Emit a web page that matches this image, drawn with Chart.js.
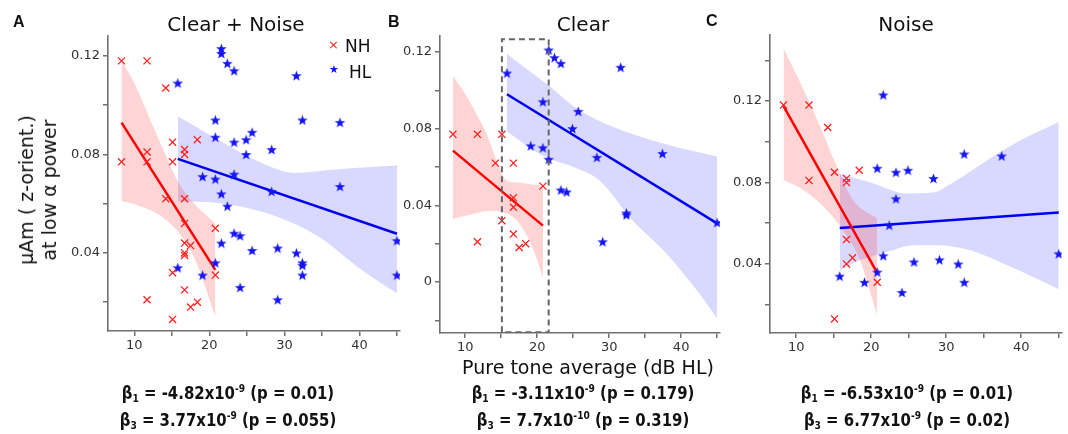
<!DOCTYPE html>
<html>
<head>
<meta charset="utf-8">
<script src="https://cdn.jsdelivr.net/npm/chart.js@4.4.1/dist/chart.umd.min.js"></script>
<style>
  body { margin: 0; background: #fff; width: 1068px; height: 434px; overflow: hidden; position: relative; font-family: "DejaVu Sans", sans-serif; color: #111; }
  .layer { position: absolute; left: 0; top: 0; width: 1068px; height: 434px; }
  .t { position: absolute; white-space: nowrap; }
  .letter { font-family: "Liberation Sans", Arial, sans-serif; font-weight: bold; font-size: 16px; }
  .title { font-size: 20px; transform: translateX(-50%); }
  .beta { font-family: "Liberation Sans Narrow", "DejaVu Sans Condensed", sans-serif; font-weight: bold; font-size: 18px; transform: translateX(-50%) scaleX(0.92); }
  .beta sub, .beta sup { font-size: 11px; }
  .beta sup { vertical-align: 7px; }
  .beta sub { vertical-align: -3px; }
</style>
</head>
<body>
<div class="layer"><canvas id="chartA" width="1068" height="434"></canvas></div>
<div class="layer"><canvas id="chartB" width="1068" height="434"></canvas></div>
<div class="layer"><canvas id="chartC" width="1068" height="434"></canvas></div>

<div class="t letter" style="left:13px;top:13px">A</div>
<div class="t letter" style="left:388px;top:13px">B</div>
<div class="t letter" style="left:706px;top:12px">C</div>

<div class="t title" style="left:236px;top:12px">Clear + Noise</div>
<div class="t title" style="left:583px;top:12px">Clear</div>
<div class="t title" style="left:906px;top:12px">Noise</div>

<div class="t" style="left:38px;top:190px;transform:translate(-50%,-50%) rotate(-90deg);font-size:19px;line-height:23px;text-align:center">µAm ( z-orient.)<br>at low α power</div>
<div class="t" style="left:588px;top:356px;transform:translateX(-50%);font-size:19px">Pure tone average (dB HL)</div>

<div class="t" style="left:328px;top:37px;color:#f22;font-size:13px">×</div>
<div class="t" style="left:345px;top:36px;font-size:17px">NH</div>
<div class="t" style="left:329px;top:63px;color:#11f;font-size:11px">★</div>
<div class="t" style="left:349px;top:62px;font-size:17px">HL</div>

<div class="t beta" style="left:228px;top:382px">β<sub>1</sub> = -4.82x10<sup>-9</sup> (p = 0.01)</div>
<div class="t beta" style="left:228px;top:409px">β<sub>3</sub> = 3.77x10<sup>-9</sup> (p = 0.055)</div>
<div class="t beta" style="left:583px;top:382px">β<sub>1</sub> = -3.11x10<sup>-9</sup> (p = 0.179)</div>
<div class="t beta" style="left:583px;top:409px">β<sub>3</sub> = 7.7x10<sup>-10</sup> (p = 0.319)</div>
<div class="t beta" style="left:907px;top:382px">β<sub>1</sub> = -6.53x10<sup>-9</sup> (p = 0.01)</div>
<div class="t beta" style="left:907px;top:409px">β<sub>3</sub> = 6.77x10<sup>-9</sup> (p = 0.02)</div>

<script>
// Pure tone average of each subject, and alpha power in each condition
const nhPta   = [8.3, 11.7, 11.7, 14.2, 15.1, 15.1, 16.7, 16.7, 16.7, 16.7, 17.5, 18.4, 20.8];
const nhClear = [0.077, 0.077, 0.021, 0.062, 0.077, 0.032, 0.062, 0.044, 0.039, 0.025, 0.018, 0.020, 0.050];
const nhNoise = [0.118, 0.118, 0.081, 0.107, 0.085, 0.013, 0.082, 0.080, 0.052, 0.040, 0.043, 0.086, 0.031];

const hlPta   = [15.8, 19.1, 20.8, 20.8, 21.6, 21.6, 22.4, 23.3, 23.3, 24.1, 24.9, 25.7, 28.3, 29.1, 31.6, 32.4, 32.4, 37.4, 45.0];
const hlClear = [0.109, 0.071, 0.094, 0.070, 0.121, 0.064, 0.117, 0.114, 0.048, 0.047, 0.080, 0.089, 0.065, 0.021, 0.112, 0.036, 0.035, 0.067, 0.031];
const hlNoise = [0.034, 0.031, 0.087, 0.036, 0.123, 0.044, 0.059, 0.085, 0.072, 0.026, 0.086, 0.041, 0.082, 0.042, 0.040, 0.094, 0.031, 0.093, 0.045];

// fitted lines (end points)
const fitA = { nhX: [8.3, 20.8], nhY: [0.0929, 0.0331], hlX: [15.8, 45], hlY: [0.0782, 0.0478] };
const fitB = { nhX: [8.3, 20.8], nhY: [0.0685, 0.0294], hlX: [15.8, 45], hlY: [0.0979, 0.0306] };
const fitC = { nhX: [8.3, 20.8], nhY: [0.1175, 0.0356], hlX: [15.8, 45], hlY: [0.0577, 0.0652] };

// confidence bands
const bandA = {
  nhUpX: [8.3, 10, 12, 14, 16, 18, 20.8], nhUp: [0.118, 0.109, 0.095, 0.081, 0.068, 0.060, 0.052],
  nhLoX: [8.3, 10, 12, 14, 16, 18, 20.8], nhLo: [0.061, 0.0598, 0.0575, 0.054, 0.048, 0.038, 0.014],
  hlUpX: [15.8, 21.2, 26.9, 31.4, 36.7, 40.3, 45], hlUp: [0.0955, 0.086, 0.0766, 0.0725, 0.0739, 0.0747, 0.0755],
  hlLoX: [15.8, 21.2, 27.8, 34.5, 40.3, 45], hlLo: [0.061, 0.0603, 0.056, 0.0467, 0.0331, 0.0236]
};
const bandB = {
  nhUpX: [8.3, 10, 11.5, 13, 14.5, 15.7, 17, 20.8], nhUp: [0.1075, 0.098, 0.088, 0.077, 0.062, 0.053, 0.052, 0.050],
  nhLoX: [8.3, 11.5, 13.3, 15.7, 17.5, 19.3, 20.8], nhLo: [0.0329, 0.0358, 0.037, 0.0358, 0.0306, 0.0184, 0.0028],
  hlUpX: [15.8, 21.2, 25.8, 30.5, 37.4, 45], hlUp: [0.119, 0.1036, 0.0897, 0.081, 0.0723, 0.0654],
  hlLoX: [15.8, 21.2, 25, 28.6, 33.2, 37.9, 42.5, 45], hlLo: [0.0784, 0.065, 0.060, 0.0532, 0.0323, 0.015, -0.0059, -0.019]
};
const bandC = {
  nhUpX: [8.3, 11, 13.2, 15.4, 17.6, 20.8], nhUp: [0.1459, 0.1254, 0.1074, 0.0878, 0.0713, 0.0623],
  nhLoX: [8.3, 11, 14.5, 16.8, 18.5, 20.8], nhLo: [0.0812, 0.0762, 0.0648, 0.0533, 0.0418, 0.0148],
  hlUpX: [15.8, 19.9, 24.8, 28.1, 31, 35.4, 39.9, 45], hlUp: [0.0844, 0.080, 0.0746, 0.0749, 0.0802, 0.0908, 0.1007, 0.1097],
  hlLoX: [15.8, 18.5, 22.1, 25.6, 28.8, 33.2, 37.6, 42, 45], hlLo: [0.0369, 0.0418, 0.0459, 0.0492, 0.0492, 0.0467, 0.0402, 0.0329, 0.0276]
};

// tick positions
const xTicks = [10, 15, 20, 25, 30, 35, 40, 45];
const yTicksA = [0.02, 0.04, 0.06, 0.08, 0.10, 0.12];
const yTicksB = [-0.02, 0, 0.02, 0.04, 0.06, 0.08, 0.10, 0.12];
const yTicksC = [0.02, 0.04, 0.06, 0.08, 0.10, 0.12, 0.14];

// dashed box in panel B
const boxX = [15.1, 21.6];
const boxY = [-0.0262, 0.1266];

const RED = '#ff2020', BLUE = '#1414f5';

function pts(xs, ys) { return xs.map((x, i) => ({ x: x, y: ys[i] })); }

function starImg(size, color) {
  const c = document.createElement('canvas');
  c.width = c.height = size;
  const g = c.getContext('2d');
  g.fillStyle = color;
  g.beginPath();
  for (let i = 0; i < 10; i++) {
    const r = i % 2 ? size * 0.21 : size * 0.5;
    const a = -Math.PI / 2 + i * Math.PI / 5;
    g.lineTo(size / 2 + r * Math.cos(a), size / 2 + 0.5 + r * Math.sin(a));
  }
  g.closePath();
  g.fill();
  return c;
}
const star = starImg(11, BLUE);

function bandSets(b) {
  const common = { type: 'line', pointRadius: 0, borderWidth: 0, cubicInterpolationMode: 'monotone', order: 5 };
  return [
    Object.assign({ data: pts(b.nhUpX, b.nhUp), fill: '+1', backgroundColor: 'rgba(255,0,0,0.17)' }, common),
    Object.assign({ data: pts(b.nhLoX, b.nhLo), fill: false }, common),
    Object.assign({ data: pts(b.hlUpX, b.hlUp), fill: '+1', backgroundColor: 'rgba(0,0,255,0.15)' }, common),
    Object.assign({ data: pts(b.hlLoX, b.hlLo), fill: false }, common)
  ];
}

function makePanel(id, nhY, hlY, fit, band, yTicks, yMin, yMax, pad, extra) {
  const datasets = bandSets(band).concat([
    { type: 'line', data: pts(fit.nhX, fit.nhY), borderColor: '#ff0000', borderWidth: 2.5, pointRadius: 0, order: 3 },
    { type: 'line', data: pts(fit.hlX, fit.hlY), borderColor: '#0000f0', borderWidth: 2.5, pointRadius: 0, order: 3 },
    { type: 'scatter', data: pts(nhY.x, nhY.y), pointStyle: 'crossRot', radius: 5, borderColor: RED, borderWidth: 1.3, order: 1 },
    { type: 'scatter', data: pts(hlY.x, hlY.y), pointStyle: star, radius: 5, order: 1 }
  ]).concat(extra || []);

  return new Chart(document.getElementById(id), {
    type: 'scatter',
    data: { datasets: datasets },
    options: {
      responsive: false,
      animation: false,
      events: [],
      layout: { padding: pad },
      plugins: { legend: { display: false }, tooltip: { enabled: false } },
      scales: {
        x: {
          type: 'linear', min: 6.5, max: 45.4,
          afterBuildTicks: s => { s.ticks = xTicks.map(v => ({ value: v })); },
          afterFit: s => { s.height = 40; },
          ticks: { callback: v => (v % 10 === 0 ? String(v) : ''), font: { family: 'DejaVu Sans', size: 13 }, color: '#333', padding: 2, maxRotation: 0, autoSkip: false },
          grid: { drawOnChartArea: false, drawTicks: true, tickLength: 5, color: '#707070', lineWidth: 1.5 },
          border: { display: true, color: '#707070', width: 1.6 }
        },
        y: {
          type: 'linear', min: yMin, max: yMax,
          afterBuildTicks: s => { s.ticks = yTicks.map(v => ({ value: v })); },
          afterFit: s => { s.width = 60; },
          ticks: {
            callback: v => { const k = Math.round(v * 100); return k % 4 === 0 ? (k === 0 ? '0' : v.toFixed(2)) : ''; },
            font: { family: 'DejaVu Sans', size: 13 }, color: '#333', padding: 3, autoSkip: false
          },
          grid: { drawOnChartArea: false, drawTicks: true, tickLength: 5, color: '#707070', lineWidth: 1.5 },
          border: { display: true, color: '#707070', width: 1.6 }
        }
      }
    }
  });
}

const allNh = { x: nhPta.concat(nhPta), y: nhClear.concat(nhNoise) };
const allHl = { x: hlPta.concat(hlPta), y: hlClear.concat(hlNoise) };

makePanel('chartA', allNh, allHl, fitA, bandA, yTicksA, 0.0083, 0.1281,
  { left: 48, right: 668, top: 36, bottom: 63 });

const box = {
  type: 'line', order: 0, pointRadius: 0, borderColor: '#666', borderWidth: 2, borderDash: [6, 4], fill: false,
  data: [
    { x: boxX[0], y: boxY[0] }, { x: boxX[0], y: boxY[1] }, { x: boxX[1], y: boxY[1] },
    { x: boxX[1], y: boxY[0] }, { x: boxX[0], y: boxY[0] }
  ]
};
makePanel('chartB', { x: nhPta, y: nhClear }, { x: hlPta, y: hlClear }, fitB, bandB, yTicksB, -0.0266, 0.1283,
  { left: 380, right: 348, top: 36, bottom: 61 }, [box]);

makePanel('chartC', { x: nhPta, y: nhNoise }, { x: hlPta, y: hlNoise }, fitC, bandC, yTicksC, 0.0061, 0.1524,
  { left: 710, right: 6, top: 35, bottom: 61 });
</script>
</body>
</html>
